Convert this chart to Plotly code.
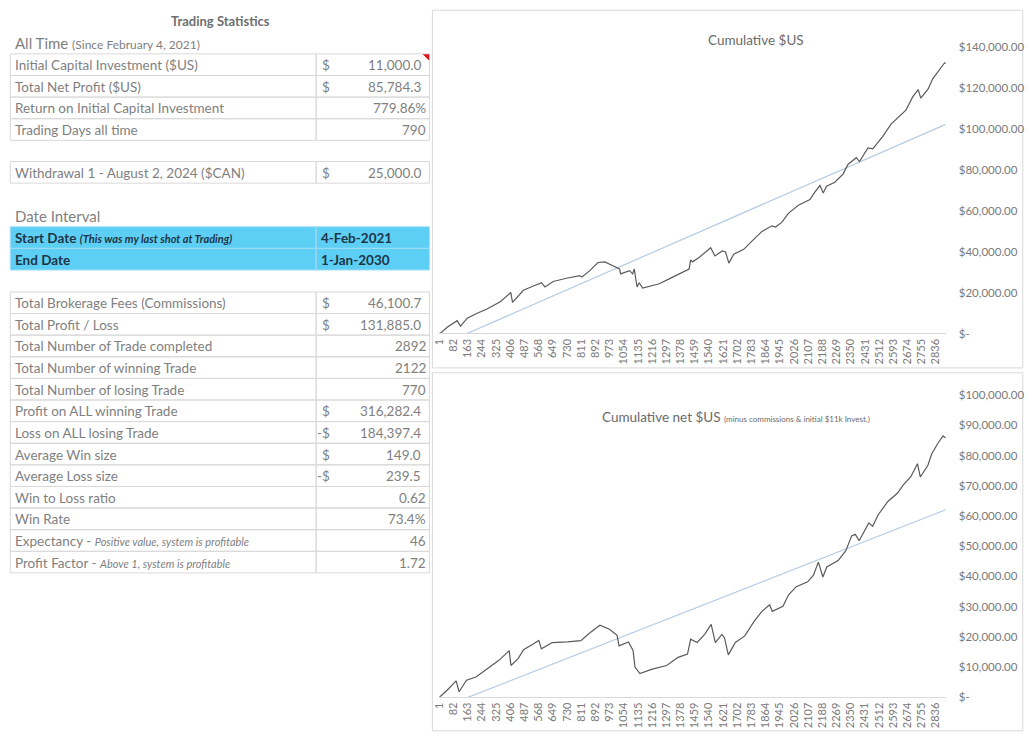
import plotly.graph_objects as go

W, H = 1029, 743
FONT = "Lato"

# ---------------- data ----------------
trade_idx_1 = [1, 9, 46, 103, 122, 160, 217, 273, 349, 409, 419, 481, 538, 585, 604, 651, 727,
               803, 815, 860, 907, 946, 992, 1030, 1036, 1087, 1105, 1114, 1130, 1142, 1162,
               1257, 1313, 1370, 1427, 1436, 1446, 1484, 1550, 1575, 1598, 1616, 1635, 1654,
               1682, 1739, 1786, 1843, 1900, 1920, 1956, 1994, 2051, 2117, 2145, 2174, 2193,
               2212, 2259, 2306, 2335, 2382, 2400, 2448, 2476, 2533, 2580, 2636, 2665, 2703,
               2735, 2750, 2792, 2817, 2864, 2886, 2892]
cumulative_us = [0, 290, 3000, 6240, 3500, 7500, 9900, 12000, 15500, 20000, 15200, 21100, 23200,
                 24800, 22700, 25400, 27000, 28300, 27600, 30700, 34700, 35000, 33100, 31500,
                 29100, 30700, 29100, 31500, 22700, 24800, 22200, 24300, 26700, 29100, 31500,
                 36000, 35000, 37100, 41900, 37900, 39500, 40300, 39800, 34400, 38700, 41100,
                 45100, 49900, 52600, 52000, 54300, 58700, 62700, 65400, 69100, 72300, 68700,
                 72000, 73900, 77900, 82700, 85900, 84000, 90700, 90200, 96300, 102300, 106700,
                 109100, 115500, 119200, 115000, 119500, 124300, 129400, 132300, 131885]
trend_idx = [1, 2892]
trend_us = [-5950, 102200]

trade_idx_2 = [1, 47, 97, 114, 156, 210, 275, 341, 400, 410, 450, 482, 537, 569, 584, 645, 732,
               809, 863, 918, 972, 1016, 1027, 1081, 1107, 1118, 1146, 1212, 1299, 1364, 1418,
               1436, 1473, 1516, 1553, 1577, 1614, 1629, 1651, 1691, 1745, 1799, 1843, 1887,
               1902, 1963, 1995, 2039, 2104, 2137, 2165, 2191, 2213, 2278, 2322, 2355, 2376,
               2398, 2453, 2475, 2507, 2562, 2616, 2649, 2692, 2731, 2747, 2790, 2812, 2845,
               2877, 2892]
cumulative_net_us = [0, 2400, 5400, 1800, 5600, 6700, 9400, 12200, 15400, 10500, 12700, 15700,
                     17600, 18800, 16000, 18100, 18300, 18700, 21400, 23800, 22500, 20500, 17000,
                     18300, 15500, 10000, 7800, 9200, 10500, 13200, 14300, 19200, 18100, 20800,
                     24100, 18100, 20800, 19700, 14000, 18100, 20300, 25200, 28400, 30600, 28400,
                     30100, 33900, 36600, 38200, 40400, 44700, 39800, 43100, 45200, 48500, 53400,
                     53900, 51800, 57700, 56600, 60400, 64800, 67500, 70200, 72900, 77300, 72900,
                     76700, 80500, 83800, 86500, 85784]
trend_net_us = [-3760, 62060]

x_tick_vals = [1, 82, 163, 244, 325, 406, 487, 568, 649, 730, 811, 892, 973, 1054, 1135, 1216,
               1297, 1378, 1459, 1540, 1621, 1702, 1783, 1864, 1945, 2026, 2107, 2188, 2269,
               2350, 2431, 2512, 2593, 2674, 2755, 2836]
y1_tick_vals = [0, 20000, 40000, 60000, 80000, 100000, 120000, 140000]
y1_tick_text = ["$-", "$20,000.00", "$40,000.00", "$60,000.00", "$80,000.00", "$100,000.00",
                "$120,000.00", "$140,000.00"]
y2_tick_vals = [0, 10000, 20000, 30000, 40000, 50000, 60000, 70000, 80000, 90000, 100000]
y2_tick_text = ["$-", "$10,000.00", "$20,000.00", "$30,000.00", "$40,000.00", "$50,000.00",
                "$60,000.00", "$70,000.00", "$80,000.00", "$90,000.00", "$100,000.00"]

# table contents
all_time_labels = ["Initial Capital Investment ($US)", "Total Net Profit ($US)",
                   "Return on Initial Capital Investment", "Trading Days all time"]
all_time_prefix = ["$", "$", "", ""]
all_time_values = ["11,000.0", "85,784.3", "779.86%", "790"]

withdrawal_label = "Withdrawal 1 - August 2, 2024 ($CAN)"
withdrawal_prefix = "$"
withdrawal_value = "25,000.0"

date_labels = ["<b>Start Date</b> <b><i><span style='font-size:11px'>(This was my last shot at Trading)</span></i></b>",
               "<b>End Date</b>"]
date_values = ["4-Feb-2021", "1-Jan-2030"]

stats_labels = ["Total Brokerage Fees (Commissions)", "Total Profit / Loss",
                "Total Number of Trade completed", "Total Number of winning Trade",
                "Total Number of losing Trade", "Profit on ALL winning Trade",
                "Loss on ALL losing Trade", "Average Win size", "Average Loss size",
                "Win to Loss ratio", "Win Rate",
                "Expectancy - <i><span style='font-size:11px'>Positive value, system is profitable</span></i>",
                "Profit Factor - <i><span style='font-size:11px'>Above 1, system is profitable</span></i>"]
stats_prefix = ["$", "$", "", "", "", "$", "-$", "$", "-$", "", "", "", ""]
stats_values = ["46,100.7", "131,885.0", "2892", "2122", "770", "316,282.4", "184,397.4",
                "149.0", "239.5", "0.62", "73.4%", "46", "1.72"]

# ---------------- helpers ----------------
def px(x):
    return x / W

def py(y):
    return 1 - y / H

shapes = []
annotations = []

GRID = "#D9D9D9"
TXT = "#7F7F7F"

def rect(x0, y0, x1, y1, line=GRID, fill=None, width=1):
    shapes.append(dict(type="rect", xref="paper", yref="paper",
                       x0=px(x0), x1=px(x1), y0=py(y1), y1=py(y0),
                       line=dict(color=line, width=width),
                       fillcolor=fill if fill else "rgba(0,0,0,0)", layer="below"))

def text(x, y, s, size=13.5, color=TXT, xanchor="left"):
    annotations.append(dict(xref="paper", yref="paper", x=px(x), y=py(y), text=s,
                            showarrow=False, xanchor=xanchor, yanchor="middle",
                            font=dict(family=FONT, size=size, color=color)))

L, M, R = 3.3, 311.3, 425.3
RH = 22.0

def table(top, labels, prefixes, values, fill=None, color=TXT, bold_val=False, size=13.5):
    for i, (lab, pre, val) in enumerate(zip(labels, prefixes, values)):
        y0 = top + i * RH
        y1 = y0 + RH
        rect(L, y0, M, y1, fill=fill, line=GRID if fill is None else "#9FDDF3")
        rect(M, y0, R, y1, fill=fill, line=GRID if fill is None else "#9FDDF3")
        cy = y0 + RH / 2 + 0.5
        text(6.5, cy, lab, size=size, color=color)
        if bold_val:
            text(314.5, cy, "<b>" + val + "</b>", size=size, color=color)
        else:
            if pre:
                text(327, cy, pre, size=size, color=color, xanchor="right")
                text(418.5, cy, val, size=size, color=color, xanchor="right")
            else:
                text(423.5, cy, val, size=size, color=color, xanchor="right")

text(215, 14.5, "<b>Trading Statistics</b>", size=13, color="#6F6F6F", xanchor="center")
text(6, 37, "All Time <span style='font-size:12px'>(Since February 4, 2021)</span>", size=15)
table(47.7, all_time_labels, all_time_prefix, all_time_values)
table(157.3, [withdrawal_label], [withdrawal_prefix], [withdrawal_value])
text(6, 213, "Date Interval", size=15)
table(223.7, date_labels, ["", ""], date_values, fill="#5DCFF5", color="#1E3547", bold_val=True)
table(290.0, stats_labels, stats_prefix, stats_values)

# red comment triangle
shapes.append(dict(type="path", xref="paper", yref="paper",
                   path=f"M {px(418.5)},{py(48.2)} L {px(425)},{py(48.2)} L {px(425)},{py(54.5)} Z",
                   fillcolor="#E0101A", line=dict(width=0)))

# chart frames
rect(428.3, 3.3, 1022.7, 367.3, line=GRID)
rect(428.3, 372.3, 1022.7, 736.7, line=GRID)

# chart titles
text(754, 34, "Cumulative $US", size=13.5, color="#6A6A6A", xanchor="center")
text(734, 417, "Cumulative net $US <span style='font-size:8px'>(minus commissions &amp; initial $11k Invest.)</span>",
     size=13.5, color="#6A6A6A", xanchor="center")

# ---------------- figure ----------------
fig = go.Figure()
LINE_C = "#5A5A5A"
TREND_C = "#B4CCE4"

fig.add_trace(go.Scatter(x=trend_idx, y=trend_us, mode="lines", line=dict(color=TREND_C, width=1.2),
                         xaxis="x", yaxis="y", hoverinfo="skip"))
fig.add_trace(go.Scatter(x=trade_idx_1, y=cumulative_us, mode="lines",
                         line=dict(color=LINE_C, width=1.2), xaxis="x", yaxis="y"))
fig.add_trace(go.Scatter(x=trend_idx, y=trend_net_us, mode="lines", line=dict(color=TREND_C, width=1.2),
                         xaxis="x2", yaxis="y2", hoverinfo="skip"))
fig.add_trace(go.Scatter(x=trade_idx_2, y=cumulative_net_us, mode="lines",
                         line=dict(color=LINE_C, width=1.2), xaxis="x2", yaxis="y2"))

xdom = [px(435.2), px(945.2)]
xaxis_common = dict(range=[0.5, 2892.5], tickmode="array", tickvals=x_tick_vals,
                    ticktext=[str(v) for v in x_tick_vals], tickangle=-90,
                    tickfont=dict(family=FONT, size=11, color="#7A7A7A"),
                    showgrid=False, zeroline=False, showline=True, linecolor=GRID, linewidth=1,
                    ticks="", fixedrange=True, domain=xdom)
yaxis_common = dict(side="right", showgrid=False, zeroline=False, showline=False, ticks="",
                    tickfont=dict(family=FONT, size=11.5, color="#7A7A7A"), ticklabelstandoff=12,
                    tickmode="array")

fig.update_layout(
    width=W, height=H, margin=dict(l=0, r=0, t=0, b=0),
    paper_bgcolor="white", plot_bgcolor="rgba(0,0,0,0)", showlegend=False,
    xaxis=dict(**xaxis_common, anchor="y"),
    yaxis=dict(**yaxis_common, range=[0, 140000], tickvals=y1_tick_vals, ticktext=y1_tick_text,
               domain=[py(332.3), py(40.7)], anchor="x"),
    xaxis2=dict(**xaxis_common, anchor="y2"),
    yaxis2=dict(**yaxis_common, range=[0, 100000], tickvals=y2_tick_vals, ticktext=y2_tick_text,
                domain=[py(702.5), py(395)], anchor="x2"),
    shapes=shapes, annotations=annotations,
)

post = ("var gd=document.getElementById('{plot_id}');"
        "document.body.style.margin='0';document.body.style.padding='0';"
        "document.body.style.overflow='hidden';"
        "gd.style.position='fixed';gd.style.left='0px';gd.style.top='0px';")
fig.write_html("out.html", config={"displayModeBar": False}, post_script=post)
